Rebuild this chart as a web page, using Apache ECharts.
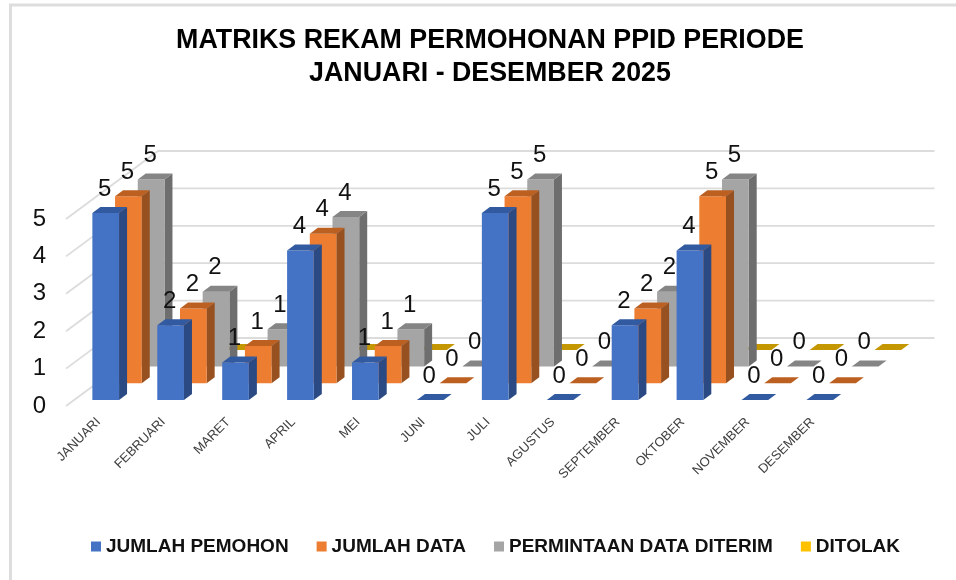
<!DOCTYPE html>
<html>
<head>
<meta charset="utf-8">
<style>html,body{margin:0;padding:0;background:#fff}#c{width:956px;height:580px}</style>
<script src="https://cdn.jsdelivr.net/npm/echarts@6/dist/echarts.min.js"></script>
</head>
<body>
<div id="c"></div>
<script>
const categories = ['JANUARI','FEBRUARI','MARET','APRIL','MEI','JUNI','JULI','AGUSTUS','SEPTEMBER','OKTOBER','NOVEMBER','DESEMBER'];
const jumlahPemohon = [5,2,1,4,1,0,5,0,2,4,0,0];
const jumlahData = [5,2,1,4,1,0,5,0,2,5,0,0];
const permintaanDiterim = [5,2,1,4,1,0,5,0,2,5,0,0];
const ditolak = [0,0,0,0,0,0,0,0,0,0,0,0];
const valueTicks = [0,1,2,3,4,5];
const seriesNames = ['JUMLAH PEMOHON','JUMLAH DATA','PERMINTAAN DATA DITERIM','DITOLAK'];
const seriesValues = [jumlahPemohon, jumlahData, permintaanDiterim, ditolak];
const showLabels = [true,true,true,false];
const palette = [
  {front:'#4472C4', side:'#2B4A83', top:'#325AA0'},
  {front:'#ED7D31', side:'#97501F', top:'#BC6022'},
  {front:'#A5A5A5', side:'#6E6E6E', top:'#858585'},
  {front:'#FFC000', side:'#A67C00', top:'#C49600'}
];

// oblique projection constants
const STEP_X = 22.7, STEP_Y = 16.7, BAR_W = 26.7, CAP_X = 8, CAP_Y = 6, START_X = -6.1;
const WALL_X = 92, WALL_Y = 68;
const FONT = '"Liberation Sans", Arial, sans-serif';

function barCorners(api, k, i, v) {
  const top = api.coord([i, v]);
  const base = api.coord([i, 0]);
  const x = top[0] + START_X + STEP_X * k;
  const yTop = top[1] - CAP_Y - STEP_Y * k;
  const yBase = base[1] - CAP_Y - STEP_Y * k;
  return {x, yTop, yBase};
}

function renderBar(k) {
  return function (params, api) {
    const i = api.value(0), v = api.value(1);
    const c = barCorners(api, k, i, v);
    const p = palette[k];
    const children = [];
    if (v > 0) {
      children.push({type:'polygon', shape:{points:[[c.x+BAR_W,c.yTop],[c.x+BAR_W+CAP_X,c.yTop-CAP_Y],[c.x+BAR_W+CAP_X,c.yBase-CAP_Y],[c.x+BAR_W,c.yBase]]}, style:{fill:p.side}});
      children.push({type:'rect', shape:{x:c.x,y:c.yTop,width:BAR_W,height:c.yBase-c.yTop}, style:{fill:p.front}});
    }
    children.push({type:'polygon', shape:{points:[[c.x,c.yTop],[c.x+CAP_X,c.yTop-CAP_Y],[c.x+BAR_W+CAP_X,c.yTop-CAP_Y],[c.x+BAR_W,c.yTop]]}, style:{fill:p.top}});
    return {type:'group', children};
  };
}

function renderLabel(k) {
  return function (params, api) {
    const i = api.value(0), v = api.value(1);
    const c = barCorners(api, k, i, v);
    return {type:'text', style:{text:String(v), x:c.x+BAR_W/2-1, y:c.yTop-24, fill:'#111111', font:'24px '+FONT, textAlign:'center', textVerticalAlign:'middle'}};
  };
}

function renderWall(params, api) {
  const g = params.coordSys;
  const p = api.coord([0, api.value(1)]);
  return {type:'polyline', shape:{points:[[g.x,p[1]],[g.x+WALL_X,p[1]-WALL_Y],[g.x+g.width+WALL_X-2.5,p[1]-WALL_Y]]}, style:{stroke:'#DCDCDC', lineWidth:1.8, fill:null}};
}

const series = [{
  type:'custom', name:'dinding', silent:true, z:1, renderItem:renderWall,
  data: valueTicks.map(t => [0,t]), clip:false
}];
seriesNames.forEach((name,k) => {
  series.push({
    type:'custom', name, z:10-k, itemStyle:{color:palette[k].front}, renderItem:renderBar(k),
    data: seriesValues[k].map((v,i) => [i,v]), encode:{x:0,y:1}, clip:false, silent:true
  });
  if (showLabels[k]) series.push({
    type:'custom', name:name+' label', z:20, renderItem:renderLabel(k),
    data: seriesValues[k].map((v,i) => [i,v]), encode:{x:0,y:1}, clip:false, silent:true
  });
});

const chart = echarts.init(document.getElementById('c'), null, {renderer:'canvas'});
chart.setOption({
  animation:false,
  backgroundColor:'#ffffff',
  title:{
    text:'MATRIKS REKAM PERMOHONAN PPID PERIODE\nJANUARI - DESEMBER 2025',
    left:485, top:19, textAlign:'center',
    textStyle:{fontFamily:FONT, fontSize:26.8, fontWeight:'bold', color:'#000', lineHeight:33}
  },
  legend:{
    data:seriesNames, left:91, top:537, padding:0, icon:'rect', itemWidth:10, itemHeight:10, itemGap:28, selectedMode:false,
    textStyle:{fontFamily:FONT, fontSize:19, fontWeight:'bold', color:'#111'}
  },
  grid:{left:66, top:219, width:779, height:187},
  xAxis:{
    type:'category', data:categories, axisLine:{show:false}, axisTick:{show:false}, splitLine:{show:false},
    axisLabel:{interval:0, rotate:45, margin:14, fontFamily:FONT, fontSize:13, color:'#404040'}
  },
  yAxis:{
    type:'value', min:0, max:5, interval:1, axisLine:{show:false}, axisTick:{show:false}, splitLine:{show:false},
    axisLabel:{margin:20, fontFamily:FONT, fontSize:24, color:'#111111'}
  },
  graphic:[
    {type:'line', silent:true, shape:{x1:10.5,y1:5,x2:10.5,y2:580}, style:{stroke:'#DDDDDD', lineWidth:3}},
    {type:'line', silent:true, shape:{x1:9,y1:5,x2:956,y2:5}, style:{stroke:'#DDDDDD', lineWidth:3}}
  ],
  series
});
</script>
</body>
</html>
